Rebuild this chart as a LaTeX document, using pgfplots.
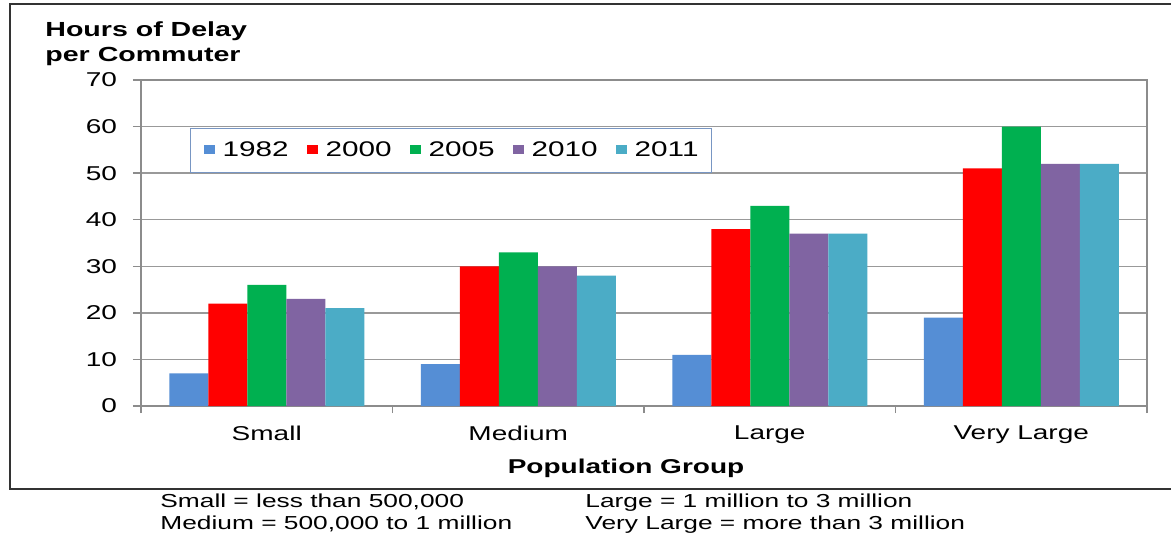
\documentclass[border=0pt]{standalone}
\usepackage{fontspec}
\setmainfont{Liberation Sans}[FakeStretch=1.4]
\usepackage{pgfplots}
\pgfplotsset{compat=1.18}
\definecolor{cA}{RGB}{85,142,213}
\definecolor{cB}{RGB}{255,0,0}
\definecolor{cC}{RGB}{0,176,80}
\definecolor{cD}{RGB}{128,100,162}
\definecolor{cE}{RGB}{75,172,198}
\definecolor{legbox}{RGB}{120,150,195}
\begin{document}
\begin{tikzpicture}
\useasboundingbox (0,0) rectangle (585.5pt,-268pt);
\fill[white] (0,0) rectangle (585.5pt,-268pt);
\draw[black!80, line width=1.2pt] (590pt,-2pt) -- (5pt,-2pt) -- (5pt,-244.5pt) -- (590pt,-244.5pt);
\begin{axis}[
  at={(70.5pt,-203pt)}, anchor=south west,
  scale only axis, width=503pt, height=163pt,
  ymin=0, ymax=70, ytick={0,10,...,70},
  xmin=-0.5, xmax=3.5, xtick={0,1,2,3},
  xticklabels={Small,Medium,Large,Very Large},
  minor xtick={-0.5,0.5,1.5,2.5,3.5},
  tick pos=left, tick align=outside,
  major tick length=4pt, minor tick length=3.5pt,
  major x tick style={draw=none},
  every tick/.style={black!45, line width=0.7pt},
  minor x tick style={black!45, line width=0.7pt},
  axis line style={black!45, line width=0.8pt},
  ymajorgrids, major grid style={black!40, line width=0.7pt},
  /pgf/number format/assume math mode=true,
  tick label style={font=\fontsize{10}{12}\selectfont, black},
  yticklabel style={xshift=-4.5pt},
  xticklabel style={yshift=-2.5pt},
  ybar=0pt, bar width=19.5pt,
  legend columns=5,
  legend image code/.code={\fill[#1,draw=none] (0pt,-2pt) rectangle (5.5pt,2.5pt);},
  legend style={at={(0.0487,0.853)}, anchor=north west, draw=legbox, line width=0.6pt,
    font=\fontsize{10.6}{12}\selectfont, text=black,
    inner xsep=6.5pt, inner ysep=6.5pt,
    nodes={inner sep=0pt},
    /tikz/every odd column/.append style={column sep=4pt},
    /tikz/every even column/.append style={column sep=9pt}},
]
\addplot[fill=cA, draw=none] coordinates {(0,7) (1,9) (2,11) (3,19)};
\addplot[fill=cB, draw=none] coordinates {(0,22) (1,30) (2,38) (3,51)};
\addplot[fill=cC, draw=none] coordinates {(0,26) (1,33) (2,43) (3,60)};
\addplot[fill=cD, draw=none] coordinates {(0,23) (1,30) (2,37) (3,52)};
\addplot[fill=cE, draw=none] coordinates {(0,21) (1,28) (2,37) (3,52)};
\legend{1982,2000,2005,2010,2011}
\end{axis}
\node[anchor=base west, font=\bfseries\fontsize{10.2}{12}\selectfont, inner sep=0pt] at (22.5pt,-18pt) {Hours of Delay};
\node[anchor=base west, font=\bfseries\fontsize{10.2}{12}\selectfont, inner sep=0pt] at (22.5pt,-30.8pt) {per Commuter};
\node[anchor=base, font=\bfseries\fontsize{10}{12}\selectfont, inner sep=0pt] at (313pt,-236.5pt) {Population Group};
\begin{scope}[every node/.style={anchor=base west, inner sep=0pt, font=\fontsize{9.4}{11}\selectfont, text=black}]
\node at (80pt,-253.5pt) {Small = less than 500,000};
\node at (80pt,-264.5pt) {Medium = 500,000 to 1 million};
\node at (292.5pt,-253.5pt) {Large = 1 million to 3 million};
\node at (292.5pt,-264.5pt) {Very Large = more than 3 million};
\end{scope}
\end{tikzpicture}
\end{document}
